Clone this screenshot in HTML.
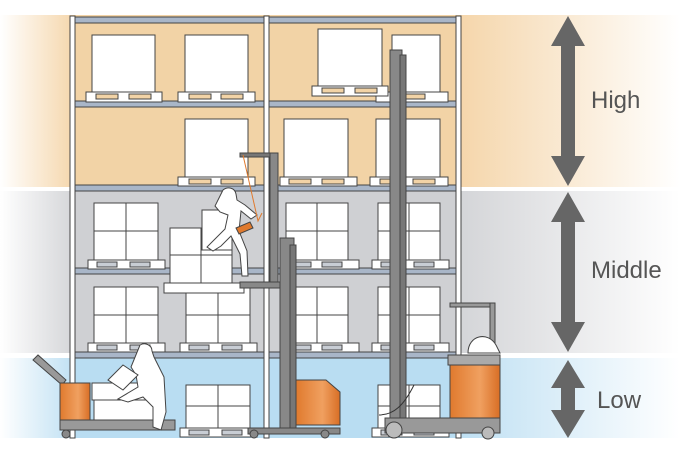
<!DOCTYPE html>
<html><head><meta charset="utf-8"><style>
html,body{margin:0;padding:0;background:#fff;width:680px;height:454px;overflow:hidden}
svg{display:block}
text{font-family:"Liberation Sans",sans-serif;fill:#555}
</style></head><body>
<svg width="680" height="454" viewBox="0 0 680 454">
<defs>
<linearGradient id="hl" x1="0" x2="1"><stop offset="0" stop-color="#f5d6ab" stop-opacity="0"/><stop offset="1" stop-color="#f5d6ab"/></linearGradient>
<linearGradient id="hr" x1="0" x2="1"><stop offset="0" stop-color="#f5d6ab"/><stop offset="1" stop-color="#f5d6ab" stop-opacity="0"/></linearGradient>
<linearGradient id="ml" x1="0" x2="1"><stop offset="0" stop-color="#d4d5d8" stop-opacity="0"/><stop offset="1" stop-color="#d4d5d8"/></linearGradient>
<linearGradient id="mr" x1="0" x2="1"><stop offset="0" stop-color="#d4d5d8"/><stop offset="1" stop-color="#d4d5d8" stop-opacity="0"/></linearGradient>
<linearGradient id="ll" x1="0" x2="1"><stop offset="0" stop-color="#bfe0f3" stop-opacity="0"/><stop offset="1" stop-color="#bfe0f3"/></linearGradient>
<linearGradient id="lr" x1="0" x2="1"><stop offset="0" stop-color="#bfe0f3"/><stop offset="1" stop-color="#bfe0f3" stop-opacity="0"/></linearGradient>
<linearGradient id="or" x1="0" x2="1"><stop offset="0" stop-color="#e07a2e"/><stop offset="0.6" stop-color="#f0a060"/><stop offset="1" stop-color="#d86e25"/></linearGradient>
</defs>
<!-- bands -->
<rect x="0" y="15" width="75" height="172" fill="url(#hl)"/>
<rect x="75" y="15" width="385" height="172" fill="#f2d3a6"/>
<rect x="460" y="15" width="220" height="172" fill="url(#hr)"/>
<rect x="0" y="191" width="75" height="162" fill="url(#ml)"/>
<rect x="75" y="191" width="385" height="162" fill="#cfd0d3"/>
<rect x="460" y="191" width="220" height="162" fill="url(#mr)"/>
<rect x="0" y="358" width="75" height="80" fill="url(#ll)"/>
<rect x="75" y="358" width="385" height="80" fill="#b9ddf2"/>
<rect x="460" y="358" width="220" height="80" fill="url(#lr)"/>

<g stroke="#444" stroke-width="1">
<!-- beams -->
<g fill="#a9b6c8">
<rect x="75" y="17" width="383" height="6"/>
<rect x="75" y="101" width="383" height="6"/>
<rect x="75" y="185" width="383" height="6"/>
<rect x="75" y="268" width="383" height="6"/>
<rect x="75" y="352" width="383" height="6"/>
</g>
<!-- high boxes -->
<g fill="#fff">
<rect x="92" y="35" width="63" height="57"/><rect x="86" y="92" width="76" height="10"/>
<rect x="185" y="35" width="63" height="57"/><rect x="178" y="92" width="77" height="10"/>
<rect x="392" y="35" width="48" height="57"/><rect x="376" y="92" width="72" height="10"/>
<rect x="318" y="29" width="64" height="57"/><rect x="312" y="86" width="76" height="10"/>
<rect x="185" y="119" width="63" height="58"/><rect x="178" y="177" width="77" height="9"/>
<rect x="284" y="119" width="64" height="58"/><rect x="280" y="177" width="77" height="9"/>
<rect x="376" y="119" width="64" height="58"/><rect x="370" y="177" width="78" height="9"/>
</g>
<g fill="#f2d3a6">
<rect x="96" y="94" width="22" height="5"/><rect x="129" y="94" width="22" height="5"/>
<rect x="189" y="94" width="22" height="5"/><rect x="221" y="94" width="22" height="5"/>
<rect x="403" y="94" width="22" height="5"/><rect x="322" y="88" width="22" height="5"/><rect x="355" y="88" width="22" height="5"/>
<rect x="189" y="179" width="22" height="5"/><rect x="221" y="179" width="22" height="5"/>
<rect x="289" y="179" width="22" height="5"/><rect x="322" y="179" width="22" height="5"/>
<rect x="380" y="179" width="22" height="5"/><rect x="413" y="179" width="22" height="5"/>
</g>
<!-- middle/low boxes -->
<g fill="#fff">
<rect x="94" y="203" width="64" height="57"/><rect x="88" y="260" width="77" height="9"/>
<rect x="286" y="203" width="62" height="57"/><rect x="282" y="260" width="77" height="9"/>
<rect x="378" y="203" width="62" height="57"/><rect x="372" y="260" width="77" height="9"/>
<rect x="94" y="287" width="64" height="56"/><rect x="88" y="343" width="77" height="9"/>
<rect x="186" y="287" width="64" height="56"/><rect x="180" y="343" width="77" height="9"/>
<rect x="286" y="287" width="62" height="56"/><rect x="282" y="343" width="77" height="9"/>
<rect x="378" y="287" width="62" height="56"/><rect x="372" y="343" width="77" height="9"/>
<rect x="186" y="385" width="64" height="43"/><rect x="180" y="428" width="77" height="9"/>
<rect x="378" y="385" width="62" height="43"/><rect x="372" y="428" width="77" height="9"/>
</g>
<g fill="none">
<path d="M126 203V260M94 231H158M126 287V343M94 315H158M218 287V343M186 315H250M317 203V260M286 231H348M317 287V343M286 315H348M409 203V260M378 231H440M409 287V343M378 315H440M218 385V428M186 406H250M409 385V428M378 406H440"/>
</g>
<g fill="#c8cdd4">
<rect x="97" y="262" width="20" height="5"/><rect x="130" y="262" width="20" height="5"/>
<rect x="97" y="345" width="20" height="5"/><rect x="130" y="345" width="20" height="5"/>
<rect x="189" y="345" width="20" height="5"/><rect x="222" y="345" width="20" height="5"/>
<rect x="291" y="262" width="20" height="5"/><rect x="322" y="262" width="20" height="5"/>
<rect x="291" y="345" width="20" height="5"/><rect x="322" y="345" width="20" height="5"/>
<rect x="381" y="262" width="20" height="5"/><rect x="414" y="262" width="20" height="5"/>
<rect x="381" y="345" width="20" height="5"/><rect x="414" y="345" width="20" height="5"/>
<rect x="189" y="430" width="20" height="5"/><rect x="222" y="430" width="20" height="5"/>
<rect x="381" y="430" width="20" height="5"/><rect x="414" y="430" width="20" height="5"/>
</g>
<!-- uprights -->
<g fill="#fff">
<rect x="70" y="16" width="5" height="422"/>
<rect x="264" y="16" width="5" height="422"/>
<rect x="456" y="16" width="5" height="422"/>
</g>

<!-- order picker -->
<rect x="170" y="228" width="62" height="55" fill="#fff"/>
<path d="M201 228V283M170 255H232" fill="none"/>
<rect x="202" y="210" width="30" height="40" fill="#fff"/>
<rect x="164" y="283" width="80" height="10" fill="#fff"/>
<rect x="240" y="153" width="38" height="4" fill="#777"/>
<rect x="270" y="153" width="8" height="132" fill="#888"/>
<rect x="240" y="282" width="40" height="6" fill="#888"/>
<path d="M223 190c5-4 12-2 13 4l1 6 8 5 12 10-6 4-10-8-2 20 8 20 1 25-6 0-2-22-9-18-10 10-8 5-6-4 6-6 12-12 3-14-8-3-5-6z" fill="#fff"/>
<path d="M236 228l14-6 3 6-14 6z" fill="#e07a2e"/>
<path d="M243 155l15 66 4-8" fill="none" stroke="#e07a2e"/>
<rect x="280" y="238" width="14" height="192" fill="#888"/>
<rect x="290" y="245" width="6" height="185" fill="#777"/>
<path d="M296 380h30l14 12v33h-44z" fill="url(#or)"/>
<rect x="248" y="428" width="92" height="6" fill="#888"/>
<circle cx="254" cy="434" r="4" fill="#888"/><circle cx="325" cy="434" r="4" fill="#888"/>

<!-- tall reach truck mast -->
<rect x="390" y="50" width="12" height="385" fill="#888"/>
<rect x="400" y="55" width="6" height="375" fill="#777"/>
<path d="M414 385c-10 20-20 30-35 30" fill="none" stroke="#333"/>
<rect x="450" y="303" width="45" height="4" fill="#999"/>
<rect x="490" y="303" width="5" height="50" fill="#999"/>
<path d="M468 353c0-18 20-22 28-8l4 8z" fill="#fff"/>
<rect x="448" y="355" width="52" height="10" fill="#aaa"/>
<rect x="450" y="365" width="50" height="55" fill="url(#or)"/>
<rect x="385" y="418" width="115" height="15" fill="#999"/>
<circle cx="394" cy="430" r="8" fill="#bbb"/><circle cx="488" cy="433" r="6" fill="#bbb"/>

<!-- pallet truck -->
<path d="M33 360l5-5 28 25-4 5z" fill="#999"/>
<rect x="60" y="383" width="30" height="45" fill="url(#or)"/>
<rect x="60" y="420" width="115" height="10" fill="#999"/>
<circle cx="66" cy="434" r="4" fill="#888"/>
<rect x="94" y="400" width="62" height="20" fill="#fff"/>
<rect x="92" y="383" width="55" height="17" fill="#fff"/>
<path d="M140 345c5-3 12 0 12 6l2 6 10 20 2 35-5 18-8-3 0-20-10-10-15 5-10-3 20-12-2-12-5-8z" fill="#fff"/>
<path d="M108 380l15-15 15 10-15 15z" fill="#fff"/>
</g>

<!-- arrows -->
<g fill="#666">
<path d="M568 16l17 30h-10v110h10l-17 30-17-30h10V46h-10z"/>
<path d="M568 192l17 30h-10v100h10l-17 30-17-30h10V222h-10z"/>
<path d="M568 360l17 28h-10v22h10l-17 28-17-28h10v-22h-10z"/>
</g>
<text x="591" y="108" font-size="24">High</text>
<text x="591" y="278" font-size="24">Middle</text>
<text x="597" y="408" font-size="24">Low</text>
</svg>
</body></html>
